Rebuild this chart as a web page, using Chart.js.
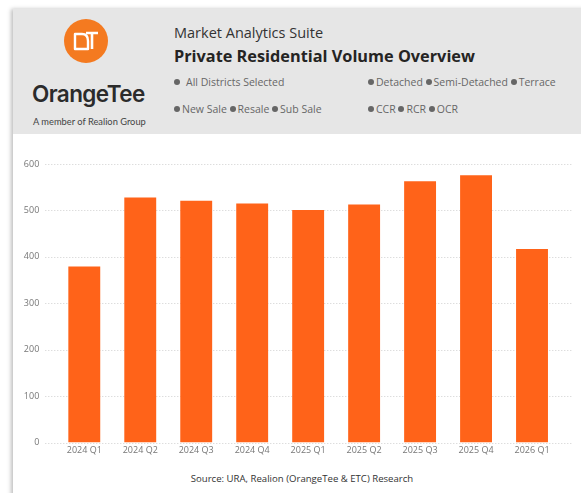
<!DOCTYPE html>
<html>
<head>
<meta charset="utf-8">
<script src="https://cdn.jsdelivr.net/npm/chart.js@4.4.1/dist/chart.umd.min.js"></script>
<style>
  html, body { margin: 0; padding: 0; background: #fff; width: 581px; height: 493px; overflow: hidden; font-family: "Open Sans", "Noto Sans", sans-serif; }
  #card { position: absolute; left: 13px; top: 9px; width: 620px; height: 520px; background: #fff; box-shadow: -2px 0 4px rgba(0,0,0,0.25); }
  #header { position: absolute; left: 13px; top: 9px; width: 580px; height: 125px; background: #e6e6e6; }
  .t { position: absolute; white-space: nowrap; }
  #sub { left: 174px; top: 23px; font-size: 14.5px; color: #333; }
  #title { left: 174px; top: 45px; font-size: 16.3px; font-weight: 700; color: #252423; }
  .f { font-size: 10.5px; color: #666; }
  .d { display: inline-block; width: 6px; height: 6px; border-radius: 50%; background: #666; margin-right: 2px; vertical-align: 1px; }
  #brand { left: 32px; top: 80px; font-family: Inter, Lato, sans-serif; font-size: 22.5px; font-weight: 600; color: #2b2b2b; letter-spacing: -0.6px; }
  #member { left: 33px; top: 116px; font-size: 9.3px; color: #444; font-family: Lato, sans-serif; }
  #source { left: 0; width: 604px; text-align: center; top: 472px; font-size: 9.6px; color: #333; }
  #wrap { position: absolute; left: 0; top: 140px; width: 581px; height: 330px; }
</style>
</head>
<body>
<div id="card"></div>
<div id="header"></div>
<svg style="position:absolute;left:64px;top:19px" width="44" height="44" viewBox="0 0 44 44">
  <circle cx="22" cy="22" r="22" fill="#f47a20"/>
  <path d="M11 15 H18 Q24 15 24 22 V30 H11 Z" fill="none" stroke="#fff" stroke-width="2.4" stroke-linejoin="round"/>
  <path d="M22 14 H34 M28 14 V30" fill="none" stroke="#fff" stroke-width="2.6"/>
</svg>
<div class="t" id="brand">OrangeTee</div>
<div class="t" id="member">A member of Realion Group</div>
<div class="t" id="sub">Market Analytics Suite</div>
<div class="t" id="title">Private Residential Volume Overview</div>
<div class="t f" style="left:174px;top:75px"><span class="d" style="margin-right:6px"></span>All Districts Selected</div>
<div class="t f" style="left:174px;top:102px"><span class="d"></span>New Sale <span class="d"></span>Resale <span class="d"></span>Sub Sale</div>
<div class="t f" style="left:368px;top:75px"><span class="d"></span>Detached <span class="d"></span>Semi-Detached <span class="d"></span>Terrace</div>
<div class="t f" style="left:368px;top:102px"><span class="d"></span>CCR <span class="d"></span>RCR <span class="d"></span>OCR</div>
<div id="wrap"><canvas id="c"></canvas></div>
<div class="t" id="source">Source: URA, Realion (OrangeTee &amp; ETC) Research</div>
<script>
const categories = ["2024 Q1","2024 Q2","2024 Q3","2024 Q4","2025 Q1","2025 Q2","2025 Q3","2025 Q4","2026 Q1"];
const volumes = [379, 528, 521, 515, 501, 513, 563, 576, 417];
const yTicks = [0, 100, 200, 300, 400, 500, 600];

const dottedGrid = {
  id: 'dottedGrid',
  beforeDatasetsDraw(chart) {
    const y = chart.scales.y, a = chart.chartArea, ctx = chart.ctx;
    ctx.save();
    ctx.strokeStyle = '#cfcfcf';
    ctx.lineWidth = 1;
    ctx.setLineDash([1, 2]);
    yTicks.forEach(v => {
      const py = Math.round(y.getPixelForValue(v)) + 0.5;
      ctx.beginPath();
      ctx.moveTo(a.left - 11, py);
      ctx.lineTo(a.right + 12, py);
      ctx.stroke();
    });
    ctx.restore();
  }
};

new Chart(document.getElementById('c'), {
  type: 'bar',
  data: {
    labels: categories,
    datasets: [{ data: volumes, backgroundColor: '#ff6319', borderWidth: 0, categoryPercentage: 1, barPercentage: 0.57 }]
  },
  options: {
    responsive: true, maintainAspectRatio: false, animation: false,
    layout: { padding: { top: 24, right: 21, bottom: 7.5, left: 0 } },
    plugins: { legend: { display: false }, tooltip: { enabled: false } },
    scales: {
      x: {
        grid: { display: false, drawTicks: false }, border: { display: false },
        ticks: { color: '#777', font: { family: 'Open Sans', size: 9 }, padding: 3, maxRotation: 0 },
        afterFit: s => { s.height = 20; }
      },
      y: {
        min: 0, max: 600,
        afterBuildTicks: s => { s.ticks = yTicks.map(v => ({ value: v })); },
        grid: { display: false, drawTicks: false }, border: { display: false },
        ticks: { color: '#777', font: { family: 'Open Sans', size: 9 }, padding: 17 },
        afterFit: s => { s.width = 56.3; }
      }
    }
  },
  plugins: [dottedGrid]
});
</script>
</body>
</html>
